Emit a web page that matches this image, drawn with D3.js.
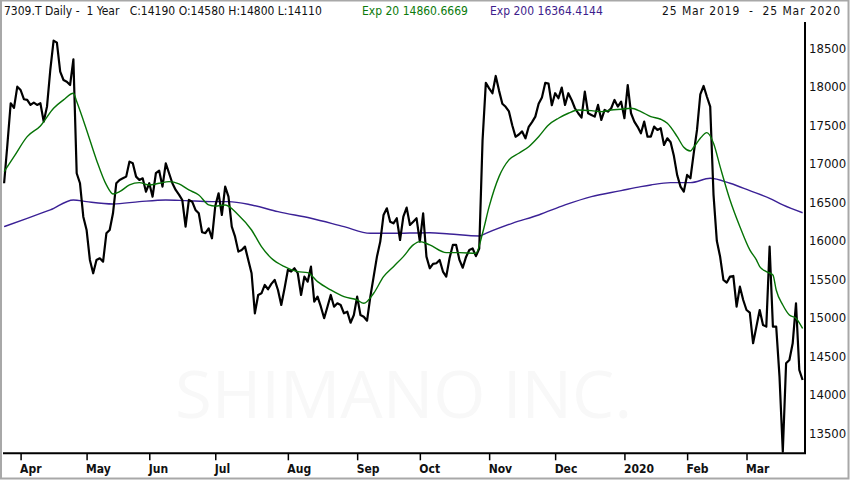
<!DOCTYPE html>
<html>
<head>
<meta charset="utf-8">
<script src="https://cdn.jsdelivr.net/npm/d3@7"></script>
<style>
  body { margin: 0; background: #fff; }
  svg { display: block; }
  .hdr { font-family: "DejaVu Sans Condensed", "DejaVu Sans", sans-serif; font-size: 12px; }
  .axis text { font-family: "DejaVu Sans Condensed", "DejaVu Sans", sans-serif; font-size: 13px; fill: #111; }
  .x-axis text { font-weight: bold; font-size: 12px; }
</style>
</head>
<body>
<svg id="chart"></svg>
<script>
// daily closes, one per trading day, 25 Mar 2019 .. 25 Mar 2020
const priceClose = [
  16747, 17250, 17786, 17725, 18001, 17958, 17838, 17829, 17764, 17794,
  17764, 17786, 17547, 17742, 18218, 18599, 18573, 18196, 18088, 18066,
  18023, 18357, 16877, 16747, 16313, 16140, 15751, 15578, 15751, 15773,
  15729, 16097, 16140, 16357, 16747, 16790, 16811, 16833, 17028, 17006,
  16833, 16790, 16811, 16638, 16747, 16573, 16877, 16910, 16703, 17006,
  16877, 16747, 16660, 16600, 16530, 16183, 16530, 16508, 16400, 16357,
  16110, 16100, 16162, 16032, 16450, 16617, 16335, 16703, 16573, 16183,
  16053, 15859, 15881, 15924, 15751, 15578, 15058, 15296, 15318, 15426,
  15370, 15440, 15491, 15361, 15166, 15383, 15621, 15600, 15643, 15578, 15296,
  15534, 15469, 15664, 15209, 15274, 15144, 14994, 15144, 15296, 15144,
  15188, 15166, 15058, 15079, 14936, 15036, 15274, 15036, 15014, 14962,
  15274, 15534, 15794, 15989, 16335, 16422, 16248, 16227, 16292, 16010,
  16313, 16430, 16205, 16248, 16292, 15989, 16357, 15794, 15643, 15700,
  15708, 15751, 15600, 15534, 15773, 15946, 15946, 15751, 15650, 15790,
  15880, 15900, 15800, 15900, 17300, 18050, 17980, 17916, 18140, 17950,
  17780, 17740, 17680, 17500, 17350, 17380, 17420, 17330, 17480, 17540,
  17612, 17780, 17860, 18050, 18040, 17760, 17916, 17851, 17990, 17764,
  17916, 17829, 17721, 17656, 17600, 17937, 17656, 17634, 17612, 17764,
  17569, 17699, 17677, 17721, 17829, 17742, 17807, 17591, 18023, 17656,
  17547, 17480, 17396, 17547, 17352, 17352, 17482, 17439, 17461, 17244,
  17331, 17280, 17100, 16850, 16703, 16638, 16855, 16811, 17136, 17439, 17900,
  18010, 17870, 17742, 16600, 16000, 15794, 15491, 15456, 15534, 15543,
  15144, 15404, 15231, 15101, 15066, 14669, 14885, 15101, 14907, 14885,
  15924, 14885, 14885, 14235, 13260, 14409, 14452, 14669, 15188, 14322, 14192
];

// Exp 20 (trading-day index, value)
const ema20Day = [0, 3, 7, 11, 15, 18, 21, 22, 25, 28, 31, 33, 35, 38, 41, 44, 47, 50, 53, 56, 59, 62, 64, 67, 71, 75, 78, 81, 85, 89, 92, 95, 99, 103, 107, 109, 112, 115, 118, 121, 124, 126, 129, 134, 138, 143, 145, 147, 150, 153, 156, 159, 162, 165, 168, 171, 174, 178, 181, 184, 187, 190, 193, 196, 199, 201, 204, 206, 208, 209, 211, 213, 215, 217, 220, 223, 226, 228, 229, 231, 233, 234, 236, 238, 240, 242];
const ema20Value = [16898, 17092, 17352, 17491, 17721, 17829, 17916, 17807, 17439, 17050, 16725, 16608, 16638, 16725, 16755, 16725, 16747, 16768, 16738, 16660, 16595, 16465, 16450, 16465, 16335, 16140, 15924, 15773, 15664, 15599, 15586, 15469, 15361, 15274, 15231, 15188, 15318, 15534, 15664, 15794, 15946, 15989, 15946, 15846, 15846, 15838, 16097, 16443, 16833, 17050, 17136, 17222, 17352, 17504, 17591, 17656, 17699, 17690, 17677, 17699, 17708, 17721, 17677, 17612, 17578, 17526, 17352, 17214, 17166, 17214, 17331, 17404, 17266, 16963, 16530, 16183, 15881, 15751, 15664, 15599, 15556, 15361, 15166, 15036, 14994, 14861];

// Exp 200
const ema200Day = [0, 7, 14, 21, 25, 33, 41, 49, 55, 63, 68, 75, 83, 93, 103, 111, 117, 129, 135, 144, 146, 154, 162, 170, 178, 187, 193, 196, 202, 208, 214, 220, 226, 232, 236, 242];
const ema200Value = [16183, 16292, 16400, 16530, 16508, 16478, 16508, 16530, 16521, 16508, 16508, 16465, 16378, 16292, 16183, 16097, 16097, 16105, 16088, 16062, 16097, 16227, 16335, 16465, 16573, 16651, 16703, 16725, 16755, 16755, 16811, 16747, 16651, 16552, 16465, 16364];

// first trading day of each month
const monthLabels = ['Apr', 'May', 'Jun', 'Jul', 'Aug', 'Sep', 'Oct', 'Nov', 'Dec', '2020', 'Feb', 'Mar'];
const monthDay = [5, 25, 44, 64, 86, 107, 126, 147, 167, 188, 207, 225];

const priceTicks = [13500, 14000, 14500, 15000, 15500, 16000, 16500, 17000, 17500, 18000, 18500];

const headerMain = '7309.T Daily -  1 Year   C:14190 O:14580 H:14800 L:14110';
const headerEma20 = 'Exp 20 14860.6669';
const headerEma200 = 'Exp 200 16364.4144';
const headerRange = '25 Mar 2019  -  25 Mar 2020';
const watermark = 'SHIMANO INC.';

class PriceChart {

  constructor(_config) {
    this.config = {
      parentElement: _config.parentElement,
      containerWidth: _config.containerWidth || 850,
      containerHeight: _config.containerHeight || 480,
      plot: _config.plot || {left: 4.1, right: 802.6, top: 22, bottom: 453.3, edge: 805},
      yDomain: _config.yDomain || [13240, 18841]
    };
    this.initVis();
  }

  initVis() {
    let vis = this;
    const p = vis.config.plot;

    vis.svg = d3.select(vis.config.parentElement)
        .attr('width', vis.config.containerWidth)
        .attr('height', vis.config.containerHeight);

    // day index -> x, price -> y
    vis.xScale = d3.scaleLinear()
        .domain([0, priceClose.length - 1])
        .range([p.left, p.right]);

    vis.yScale = d3.scaleLinear()
        .domain(vis.config.yDomain)
        .range([p.bottom, p.top]);

    vis.xAxis = d3.axisBottom(vis.xScale)
        .tickValues(monthDay)
        .tickFormat((d, i) => monthLabels[i])
        .tickSizeOuter(0)
        .tickSize(7)
        .tickPadding(4);

    vis.yAxis = d3.axisRight(vis.yScale)
        .tickValues(priceTicks)
        .tickFormat(d3.format('d'))
        .tickSize(0)
        .tickPadding(4);

    vis.svg.append('defs').append('clipPath')
        .attr('id', 'plot-clip')
      .append('rect')
        .attr('x', 3)
        .attr('y', p.top)
        .attr('width', p.edge - 3)
        .attr('height', p.bottom - p.top);

    // faint company name behind the lines
    vis.svg.append('text')
        .attr('x', 175)
        .attr('y', 418)
        .attr('textLength', 457)
        .attr('lengthAdjust', 'spacingAndGlyphs')
        .style('font-family', '"Open Sans", "DejaVu Sans", sans-serif')
        .style('font-weight', 400)
        .style('font-size', '66px')
        .style('fill', '#f8f8f8')
        .text(watermark);

    vis.chart = vis.svg.append('g')
        .attr('clip-path', 'url(#plot-clip)');

    vis.xAxisG = vis.svg.append('g')
        .attr('class', 'axis x-axis')
        .attr('transform', `translate(0,${p.bottom})`);

    vis.yAxisG = vis.svg.append('g')
        .attr('class', 'axis y-axis')
        .attr('transform', `translate(${p.edge},0)`);
  }

  updateVis() {
    let vis = this;

    vis.priceData = priceClose.map((v, i) => [i, v]);
    vis.ema20Data = ema20Day.map((d, i) => [d, ema20Value[i]]);
    vis.ema200Data = ema200Day.map((d, i) => [d, ema200Value[i]]);

    vis.renderVis();
  }

  renderVis() {
    let vis = this;
    const p = vis.config.plot;

    const smooth = d3.line()
        .x(d => vis.xScale(d[0]))
        .y(d => vis.yScale(d[1]))
        .curve(d3.curveMonotoneX);

    const straight = d3.line()
        .x(d => vis.xScale(d[0]))
        .y(d => vis.yScale(d[1]));

    vis.chart.append('path')
        .datum(vis.ema200Data)
        .attr('fill', 'none')
        .attr('stroke', '#3b2196')
        .attr('stroke-width', 1.4)
        .attr('d', smooth);

    vis.chart.append('path')
        .datum(vis.priceData)
        .attr('fill', 'none')
        .attr('stroke', '#000')
        .attr('stroke-width', 2.2)
        .attr('stroke-linejoin', 'round')
        .attr('d', straight);

    vis.chart.append('path')
        .datum(vis.ema20Data)
        .attr('fill', 'none')
        .attr('stroke', '#067306')
        .attr('stroke-width', 1.4)
        .attr('d', smooth);

    // axes
    vis.xAxisG.call(vis.xAxis)
        .call(g => g.select('.domain').remove())
        .call(g => g.selectAll('.tick line').attr('stroke', '#000').attr('stroke-width', 1.5))
        .selectAll('text')
          .style('text-anchor', 'start')
          .attr('dx', '-1');

    vis.yAxisG.call(vis.yAxis)
        .call(g => g.select('.domain').remove());

    // plot frame: bottom and right borders in black
    vis.svg.append('path')
        .attr('fill', 'none')
        .attr('stroke', '#000')
        .attr('stroke-width', 2)
        .attr('d', `M3,${p.bottom}H${p.edge}V${p.top}`);

    // outer window frame
    vis.svg.append('rect')
        .attr('x', 1)
        .attr('y', 0.5)
        .attr('width', vis.config.containerWidth - 2.5)
        .attr('height', vis.config.containerHeight - 2)
        .attr('fill', 'none')
        .attr('stroke', '#a8a8a8')
        .attr('stroke-width', 2);

    // header line, keeping the double spaces
    const hdr = vis.svg.append('g').attr('class', 'hdr');
    hdr.append('text').attr('xml:space', 'preserve')
        .attr('x', 4).attr('y', 15).attr('fill', '#111').text(headerMain);
    hdr.append('text').attr('x', 362).attr('y', 15).attr('fill', '#0b7a0b').text(headerEma20);
    hdr.append('text').attr('x', 490).attr('y', 15).attr('fill', '#3d1d8c').text(headerEma200);
    hdr.append('text').attr('xml:space', 'preserve')
        .attr('x', 662).attr('y', 15)
        .attr('textLength', 178)
        .attr('fill', '#111').text(headerRange);
  }
}

const chart = new PriceChart({parentElement: '#chart'});
chart.updateVis();
</script>
</body>
</html>
